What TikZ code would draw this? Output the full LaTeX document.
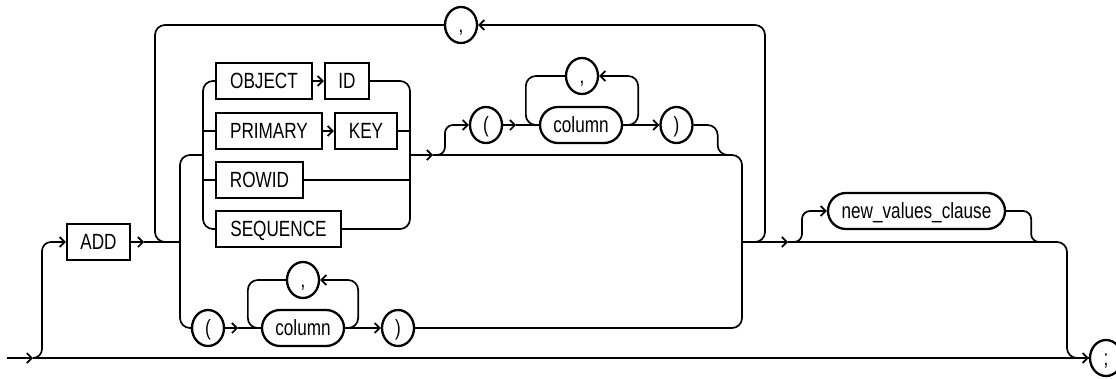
\documentclass[tikz,border=0pt]{standalone}
\usepackage{fontspec}
\setmainfont{Liberation Sans}[FakeStretch=0.78]
\usetikzlibrary{arrows.meta,shapes.geometric}

\begin{document}
\begin{tikzpicture}[
  x=1pt, y=-1pt,
  font=\fontsize{22}{26}\selectfont,
  kw/.style={rectangle, draw=black, line width=2.3pt, minimum height=36pt,
    inner sep=0pt, text height=15pt, text depth=0pt},
  lit/.style={ellipse, draw=black, line width=2.3pt, minimum width=32pt,
    minimum height=36pt, inner sep=0pt, text height=15pt, text depth=0pt},
  nt/.style={rectangle, rounded corners=18pt, draw=black, line width=2.3pt,
    minimum height=36pt, inner sep=0pt, text height=15pt, text depth=0pt},
  rail/.style={line width=1.7pt},
  arrow/.style={rail, ->, >={Straight Barb[length=5pt,width=10pt]}},
]
\useasboundingbox (0,0) rectangle (1116,378);

% junctions
\coordinate (start) at (7,358);
\coordinate (a0) at (33,358);
\coordinate (loopL) at (155,242);
\coordinate (split) at (180,242);
\coordinate (inL) at (203,155);
\coordinate (inR) at (410,155);
\coordinate (outR) at (732,155);
\coordinate (outJ) at (742,242);
\coordinate (endV) at (1067,358);
\coordinate (endJ) at (1057,242);

\node[kw, minimum width=63pt] (add) at (98.5,242) {ADD};

\node[kw, minimum width=96pt] (object) at (264,81) {OBJECT};
\node[kw, minimum width=44pt] (id) at (347,81) {ID};
\node[kw, minimum width=106pt] (primary) at (269,131) {PRIMARY};
\node[kw, minimum width=62pt] (key) at (366,131) {KEY};
\node[kw, minimum width=87pt] (rowid) at (259.5,180) {ROWID};
\node[kw, minimum width=125pt] (sequence) at (278.5,229) {SEQUENCE};

\node[lit] (cm0) at (461,25) {,};

\node[lit] (lp1) at (486,125) {(};
\node[nt, minimum width=82pt] (col1) at (581,125) {column};
\node[lit] (cm1) at (582,76) {,};
\node[lit] (rp1) at (676.5,125) {)};

\node[lit] (lp2) at (208,328) {(};
\node[nt, minimum width=82pt] (col2) at (303,328) {column};
\node[lit] (cm2) at (303,280) {,};
\node[lit] (rp2) at (398,328) {)};

\node[nt, minimum width=177pt] (nv) at (916.5,211) {new\_values\_clause};
\node[lit] (semi) at (1106,358) {;};

% main line
\draw[arrow] (start) -- (a0);
\draw[rail] (a0) -- (semi.west);
\draw[arrow, rounded corners=9pt] (a0) -- ++(9,0) |- (add.west);
\draw[arrow] (add.east) -- ++(13,0) coordinate (tadd);
\draw[rail] (tadd) -- (split);

% keyword choice
\draw[rail, rounded corners=10pt] (split) |- (inL);
\draw[rail, rounded corners=10pt] (split) |- (lp2.west);
\draw[rail, rounded corners=10pt] (object.west) -| (inL) |- (sequence.west);
\draw[rail] (primary.west) -- (primary.west -| inL);
\draw[rail] (rowid.west) -- (rowid.west -| inL);
\draw[arrow] (object) -- (id);
\draw[arrow] (primary) -- (key);
\draw[rail, rounded corners=10pt] (id.east) -| (inR) |- (sequence.east);
\draw[rail] (key.east) -- (key.east -| inR);
\draw[rail] (rowid.east) -- (rowid.east -| inR);
\draw[arrow] (inR) -- ++(23,0) coordinate (topt);
\draw[rail, rounded corners=10pt] (topt) -| (outJ);

% optional column list
\draw[arrow, rounded corners=8pt] (topt) -- ++(12,0) |- (lp1.west);
\draw[arrow] (lp1.east) -- ++(13,0) coordinate (tlp1);
\draw[rail] (tlp1) -- (col1.west);
\draw[arrow, rounded corners=10pt] (col1.east) -- ++(15,0) |- (cm1.east);
\draw[rail, rounded corners=10pt] (cm1.west) -- ++(-39,0) |- (col1.west);
\draw[arrow] (col1.east) -- (rp1.west);
\draw[rail, rounded corners=10pt] (rp1.east) -- ++(24,0) |- (outR);

% second choice
\draw[arrow] (lp2.east) -- ++(13,0) coordinate (tlp2);
\draw[rail] (tlp2) -- (col2.west);
\draw[arrow, rounded corners=10pt] (col2.east) -- ++(13,0) |- (cm2.east);
\draw[rail, rounded corners=10pt] (cm2.west) -- ++(-38,0) |- (col2.west);
\draw[arrow] (col2.east) -- (rp2.west);
\draw[rail, rounded corners=10pt] (rp2.east) -| (outJ);

% repeat loop
\draw[arrow, rounded corners=10pt] (outJ) -- ++(23,0) |- (cm0.east);
\draw[rail, rounded corners=10pt] (cm0.west) -| (loopL) -- (split);

% new_values_clause
\draw[arrow] (outJ) -- ++(46,0) coordinate (tout);
\draw[arrow, rounded corners=8pt] (tout) -- ++(14,0) |- (nv.west);
\draw[rail, rounded corners=8pt] (nv.east) -- ++(25,0) |- (endJ);
\draw[arrow, rounded corners=10pt] (tout) -| (endV) -- (semi.west);

\end{tikzpicture}
\end{document}
